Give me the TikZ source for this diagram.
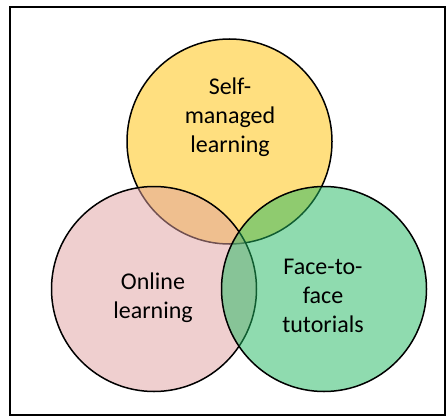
\documentclass[tikz,border=0pt]{standalone}
\usepackage{fontspec}
\setmainfont{Carlito}
\usepackage{tikz}
\usetikzlibrary{shapes}

\definecolor{selfcol}{HTML}{FFC000}
\definecolor{onlinecol}{HTML}{E0A0A0}
\definecolor{facecol}{HTML}{20B860}

\begin{document}
\begin{tikzpicture}[x=1pt,y=-1pt,
	set/.style={circle,draw,line width=1.5pt,minimum size=205pt,inner sep=0pt,fill opacity=0.5,draw opacity=1},
	lbl/.style={align=center,font=\fontsize{24}{29}\selectfont}]
\useasboundingbox (0,0) rectangle (446,417);
\node [rectangle,draw,line width=1.3pt,minimum width=435pt,minimum height=408pt,inner sep=0pt] (frame) at (227.5,211) {};
% the three sets
\node [set,fill=selfcol] (self) at (229.5,141.5) {};
\node [set,fill=onlinecol] (online) at (154,289) {};
\node [set,fill=facecol] (face) at (324,289) {};
% labels
\node [lbl] (selftext) at (230,117) {Self-\\managed\\learning};
\node [lbl] (onlinetext) at (153,298) {Online\\learning};
\node [lbl] (facetext) at (323,296) {Face-to-\\face\\tutorials};
\end{tikzpicture}
\end{document}
